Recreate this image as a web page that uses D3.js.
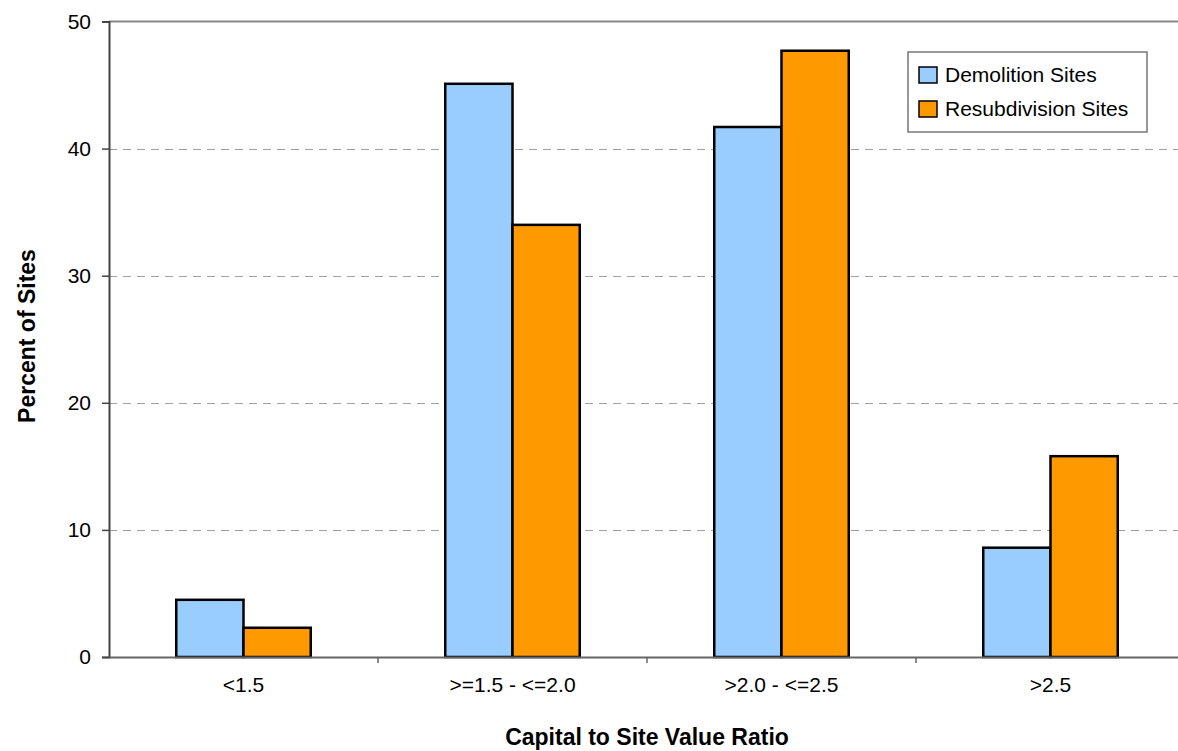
<!DOCTYPE html>
<html>
<head>
<meta charset="utf-8">
<script src="https://cdn.jsdelivr.net/npm/d3@7"></script>
<style>
  body { margin: 0; background: #fff; }
  svg { display: block; font-family: Arial, "Liberation Sans", sans-serif; }
</style>
</head>
<body>
<svg id="chart" width="1178" height="751"></svg>
<script>
// Capital to site value ratio distribution
const categories = ["<1.5", ">=1.5 - <=2.0", ">2.0 - <=2.5", ">2.5"];
const seriesNames = ["Demolition Sites", "Resubdivision Sites"];
const demolition = [4.5, 45.1, 41.7, 8.6];
const resubdivision = [2.3, 34.0, 47.7, 15.8];
const yTicks = [0, 10, 20, 30, 40, 50];
const colors = ["#99CCFF", "#FF9900"];

const FONT = "Arial, 'Liberation Sans', sans-serif";
const svg = d3.select("#chart");
const W = 1178, H = 751;
const margin = { left: 109, right: -7, top: 21.5, bottom: 94 };
const x0 = margin.left, x1 = W - margin.right;
const yTop = margin.top, yBot = H - margin.bottom;

const x = d3.scaleBand().domain(categories).range([x0, x1]).paddingInner(0).paddingOuter(0);
const xs = d3.scaleBand().domain(seriesNames).range([0, x.bandwidth()]).paddingInner(0).paddingOuter(1);
const y = d3.scaleLinear().domain([0, 50]).range([yBot, yTop]);

// dashed gridlines
svg.append("g")
  .selectAll("line")
  .data(yTicks.filter(t => t > 0 && t < 50))
  .join("line")
  .attr("x1", x0).attr("x2", x1)
  .attr("y1", d => Math.round(y(d)) + 0.5).attr("y2", d => Math.round(y(d)) + 0.5)
  .attr("stroke", "#a0a0a0").attr("stroke-width", 1).attr("stroke-dasharray", "8,6");

// top border of plot
svg.append("line")
  .attr("x1", x0).attr("x2", x1).attr("y1", y(50)).attr("y2", y(50))
  .attr("stroke", "#888").attr("stroke-width", 2);

// bars
const rows = categories.map((c, i) => ({ c, vals: [demolition[i], resubdivision[i]] }));
const groups = svg.append("g").selectAll("g").data(rows).join("g")
  .attr("transform", d => `translate(${x(d.c)},0)`);
groups.selectAll("rect")
  .data(d => d.vals.map((v, k) => ({ v, k })))
  .join("rect")
  .attr("x", d => xs(seriesNames[d.k]))
  .attr("width", xs.bandwidth())
  .attr("y", d => y(d.v))
  .attr("height", d => y(0) - y(d.v))
  .attr("fill", d => colors[d.k])
  .attr("stroke", "#000").attr("stroke-width", 2.5);

// y axis
const yAxis = svg.append("g").attr("transform", `translate(${x0},0)`)
  .call(d3.axisLeft(y).tickValues(yTicks).tickSize(7).tickPadding(11).tickFormat(d3.format("d")));
yAxis.select(".domain").attr("stroke", "#444").attr("stroke-width", 2);
yAxis.selectAll(".tick line").attr("stroke", "#444").attr("stroke-width", 1.5);
yAxis.selectAll("text").attr("font-size", 21).attr("fill", "#000").attr("font-family", FONT);

// x axis
const xAxis = svg.append("g").attr("transform", `translate(0,${yBot})`)
  .call(d3.axisBottom(x).tickSize(0).tickPadding(20));
xAxis.select(".domain").attr("stroke", "#666").attr("stroke-width", 2);
xAxis.selectAll("text").attr("font-size", 21).attr("fill", "#000").attr("font-family", FONT);
// category boundary ticks
svg.append("g").selectAll("line")
  .data(categories.slice(1))
  .join("line")
  .attr("x1", d => x(d)).attr("x2", d => x(d))
  .attr("y1", yBot).attr("y2", yBot + 6)
  .attr("stroke", "#666").attr("stroke-width", 1.5);

// axis titles
svg.append("text")
  .attr("x", (x0 + x1) / 2).attr("y", 745)
  .attr("text-anchor", "middle")
  .attr("font-weight", "bold").attr("font-size", 23)
  .text("Capital to Site Value Ratio");
svg.append("text")
  .attr("transform", "translate(35,336) rotate(-90)")
  .attr("text-anchor", "middle")
  .attr("font-weight", "bold").attr("font-size", 23)
  .text("Percent of Sites");

// legend
const lg = svg.append("g").attr("transform", "translate(908,52)");
lg.append("rect").attr("width", 239).attr("height", 80)
  .attr("fill", "#fff").attr("stroke", "#777").attr("stroke-width", 1.5);
const items = lg.selectAll("g").data(seriesNames).join("g")
  .attr("transform", (d, i) => `translate(11,${15 + i * 34})`);
items.append("rect").attr("width", 18).attr("height", 16)
  .attr("fill", (d, i) => colors[i]).attr("stroke", "#000").attr("stroke-width", 1.5);
items.append("text").attr("x", 26).attr("y", 15)
  .attr("font-size", 21).text(d => d);
</script>
</body>
</html>
